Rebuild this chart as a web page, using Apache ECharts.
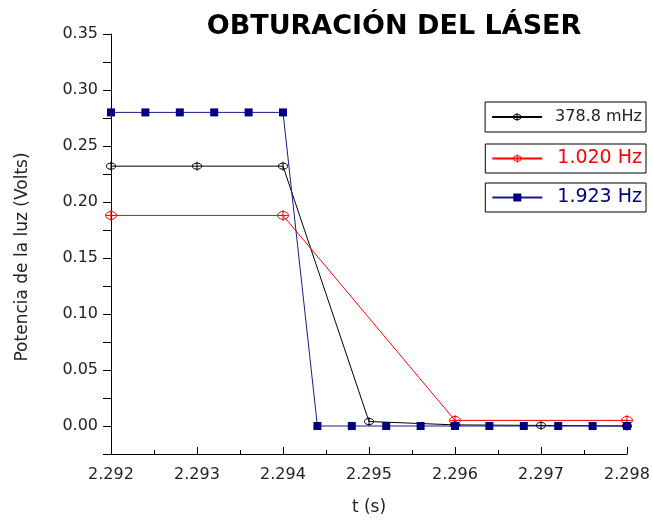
<!DOCTYPE html>
<html><head><meta charset="utf-8">
<script src="https://cdn.jsdelivr.net/npm/echarts@6/dist/echarts.min.js"></script>
<style>html,body{margin:0;padding:0;background:#fff}#c{width:653px;height:523px}</style>
</head><body><div id="c"></div>
<script>
const seriesNames = ['378.8 mHz', '1.020 Hz', '1.923 Hz'];
const tBlack = [2.292, 2.293, 2.294, 2.295, 2.296, 2.297, 2.298];
const vBlack = [0.232, 0.232, 0.232, 0.004, 0.001, 0.0005, 0.0];
const tRed = [2.292, 2.294, 2.296, 2.298];
const vRed = [0.188, 0.188, 0.005, 0.005];
const tBlue = [2.292, 2.2924, 2.2928, 2.2932, 2.2936, 2.294, 2.2944, 2.2948, 2.2952, 2.2956, 2.296, 2.2964, 2.2968, 2.2972, 2.2976, 2.298];
const vBlue = [0.28, 0.28, 0.28, 0.28, 0.28, 0.28, 0, 0, 0, 0, 0, 0, 0, 0, 0, 0];

const pair = (t, v) => t.map((x, i) => [x, v[i]]);
const crossCircle = 'path://M0,-5A5,5 0 1,1 0,5A5,5 0 1,1 0,-5ZM0,-7L0,7M-5,0L5,0';
const phiCircle = 'path://M0,-4A4,4 0 1,1 0,4A4,4 0 1,1 0,-4ZM0,-6L0,6';
const font = 'DejaVu Sans, sans-serif';

const chart = echarts.init(document.getElementById('c'));
function leg(name, top, color, size, padV, gap, itemStyle) {
  const l = {
    data: [name], top: top, right: 7, orient: 'horizontal',
    borderColor: '#000', borderWidth: 1, padding: [padV, 4, padV, 6],
    itemWidth: 50, itemHeight: 10, itemGap: 0,
    textStyle: { color: color, fontSize: size, fontFamily: font, padding: [0, 0, 0, gap] }
  };
  if (itemStyle) l.itemStyle = itemStyle;
  return l;
}
chart.setOption({
  animation: false,
  title: {
    text: 'OBTURACIÓN DEL LÁSER', left: 389, top: 8, textAlign: 'center',
    textStyle: { fontSize: 27, fontWeight: 'bold', color: '#000', fontFamily: font }
  },
  legend: [
    leg(seriesNames[0], 102, '#222', 16, 7, 8, { color: 'rgba(255,255,255,0)', borderColor: '#000', borderWidth: 1 }),
    leg(seriesNames[1], 144, '#ff0000', 19, 5, 10, { color: 'rgba(255,255,255,0)', borderColor: '#ff0000', borderWidth: 1 }),
    leg(seriesNames[2], 183, '#000080', 19, 5, 10)
  ],
  grid: { left: 111, right: 26, top: 34, bottom: 69, containLabel: false },
  xAxis: {
    type: 'value', min: 2.292, max: 2.298, interval: 0.001,
    name: 't (s)', nameLocation: 'middle', nameGap: 45,
    nameTextStyle: { fontSize: 17, color: '#222', fontFamily: font },
    axisLine: { onZero: false, lineStyle: { color: '#000', width: 1 } },
    axisTick: { inside: true, length: 7, lineStyle: { color: '#000' } },
    minorTick: { show: true, splitNumber: 2, length: 4, lineStyle: { color: '#000' } },
    splitLine: { show: false },
    axisLabel: { fontSize: 16, color: '#222', fontFamily: font, margin: 13,
      formatter: v => v.toFixed(3) }
  },
  yAxis: {
    type: 'value', min: -0.025, max: 0.35, interval: 0.025,
    name: 'Potencia de la luz (Volts)', nameLocation: 'middle', nameGap: 80,
    nameTextStyle: { fontSize: 17, color: '#222', fontFamily: font, padding: [0, 26, 0, 0] },
    axisLine: { show: true, onZero: false, lineStyle: { color: '#000', width: 1 } },
    axisTick: { show: true, length: 8, lineStyle: { color: '#000' } },
    splitLine: { show: false },
    axisLabel: { fontSize: 16, color: '#222', fontFamily: font, margin: 13,
      formatter: v => {
        const k = Math.round(v * 1000);
        return (k >= 0 && k % 50 === 0) ? (k / 1000).toFixed(2) : '';
      } }
  },
  series: [
    { name: seriesNames[0], type: 'line', data: pair(tBlack, vBlack),
      symbol: phiCircle, symbolSize: 9, showAllSymbol: true,
      lineStyle: { color: '#000', width: 1 },
      itemStyle: { color: 'rgba(255,255,255,0)', borderColor: '#000', borderWidth: 1 } },
    { name: seriesNames[1], type: 'line', data: pair(tRed, vRed),
      symbol: crossCircle, symbolSize: 11, showAllSymbol: true,
      lineStyle: { color: '#ff0000', width: 1 },
      itemStyle: { color: 'rgba(255,255,255,0)', borderColor: '#ff0000', borderWidth: 1 } },
    { name: seriesNames[2], type: 'line', data: pair(tBlue, vBlue),
      symbol: 'rect', symbolSize: 8, showAllSymbol: true,
      lineStyle: { color: '#1a1a8c', width: 1 },
      itemStyle: { color: '#000080' } }
  ]
});
</script></body></html>
